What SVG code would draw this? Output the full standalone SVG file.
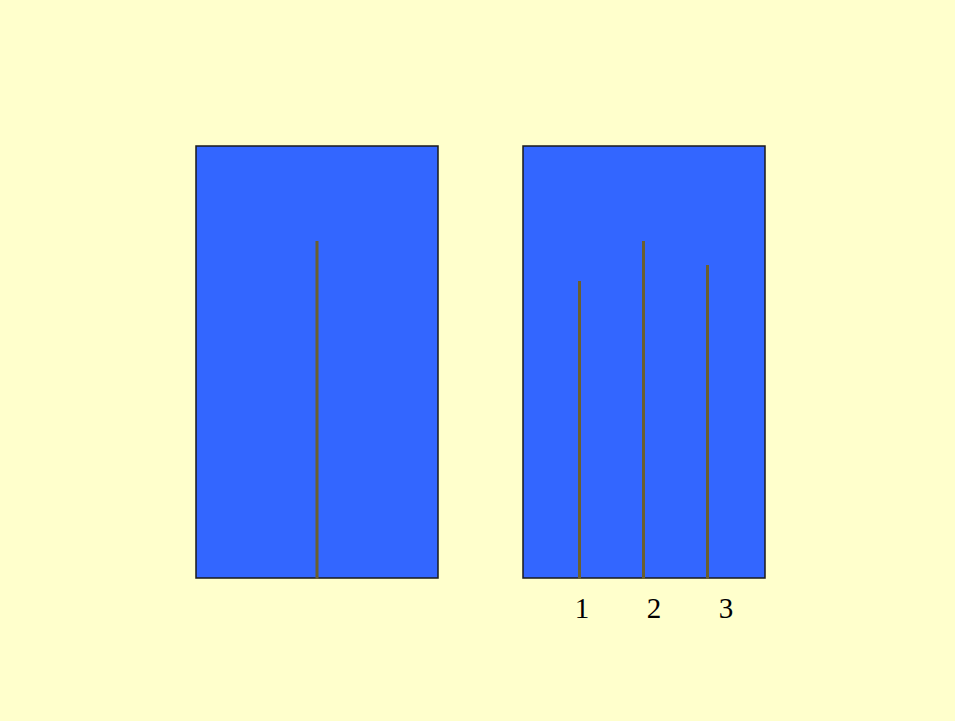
<svg xmlns="http://www.w3.org/2000/svg" width="955" height="721" viewBox="0 0 955 721">
<style>
.box{fill:#3366ff;stroke:#1a1a1a;stroke-width:1.5}
.fib{stroke:#6b5f2e;stroke-width:3}
.lbl{font-family:"Liberation Serif",serif;font-size:29px;fill:#000;text-anchor:middle}
</style>
<rect width="955" height="721" fill="#ffffcc"/>
<g id="left">
<rect class="box" x="196" y="146" width="242" height="432"/>
<line class="fib" x1="317" y1="241" x2="317" y2="579"/>
</g>
<g id="right">
<rect class="box" x="523" y="146" width="242" height="432"/>
<line class="fib" x1="579.5" y1="281" x2="579.5" y2="579"/>
<line class="fib" x1="643.5" y1="241" x2="643.5" y2="579"/>
<line class="fib" x1="707.5" y1="265" x2="707.5" y2="579"/>
</g>
<g id="labels">
<text class="lbl" x="582" y="618">1</text>
<text class="lbl" x="654" y="618">2</text>
<text class="lbl" x="726" y="618">3</text>
</g>
</svg>
